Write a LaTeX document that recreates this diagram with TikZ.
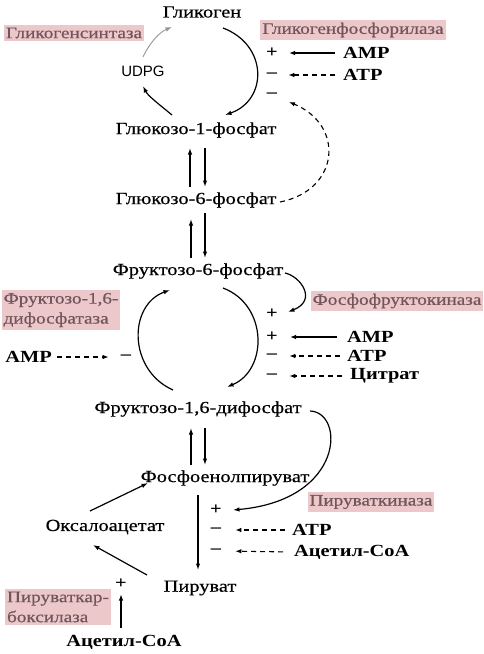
\documentclass[tikz,border=0pt]{standalone}
\usepackage{fontspec}
\setmainfont[FakeStretch=1.2,UprightFeatures={FakeBold=0.5}]{Liberation Serif}
\newfontfamily\udpgfont{Liberation Sans}
\usetikzlibrary{arrows.meta}
\definecolor{enzfill}{RGB}{236,200,203}
\definecolor{enztext}{RGB}{112,86,91}
\definecolor{synthgray}{RGB}{150,150,150}
\newcommand{\mfont}{\fontsize{17}{20}\selectfont}
\newcommand{\efont}{\fontsize{16}{20}\selectfont}
\tikzset{
  metab/.style={inner sep=1pt,font=\mfont},
  effector/.style={inner sep=1pt,anchor=west,font=\mfont\bfseries},
  enzyme/.style={fill=enzfill,text=enztext,inner xsep=2pt,inner ysep=3pt,align=left,font=\efont},
  sgn/.style={inner sep=1pt,font=\mfont\bfseries},
  react/.style={-{Latex[length=6.5pt,width=4.5pt]},line width=1.2pt},
  regact/.style={-{Latex[length=6pt,width=4.5pt]},line width=1.1pt},
  reginh/.style={regact,dash pattern=on 5pt off 4pt}
}
\begin{document}
\begin{tikzpicture}[x=1pt,y=-1pt]
\useasboundingbox (0,0) rectangle (484,654);
% metabolites
\node[metab] (glycogen) at (202,12) {Гликоген};
\node[metab,font=\udpgfont\fontsize{15}{16}\selectfont] (udpg) at (143,71) {UDPG};
\node[metab] (g1p) at (196,130) {Глюкозо-1-фосфат};
\node[metab] (g6p) at (196,200) {Глюкозо-6-фосфат};
\node[metab] (f6p) at (198,271) {Фруктозо-6-фосфат};
\node[metab] (f16bp) at (198,409) {Фруктозо-1,6-дифосфат};
\node[metab] (pep) at (225,478) {Фосфоенолпируват};
\node[metab] (oaa) at (105,527) {Оксалоацетат};
\node[metab] (pyr) at (200,588) {Пируват};
% enzymes
\node[enzyme] (gs) at (74,33) {Гликогенсинтаза};
\node[enzyme] (gp) at (353,30) {Гликогенфосфорилаза};
\node[enzyme] (pfk) at (397,301) {Фосфофруктокиназа};
\node[enzyme] (fbp) at (61,310) {Фруктозо-1,6-\\дифосфатаза};
\node[enzyme] (pk) at (371,502) {Пируваткиназа};
\node[enzyme] (pc) at (58,607) {Пируваткар-\\боксилаза};
% signs
\node[sgn] (gpa) at (272,53) {+};
\node[sgn] (gpb) at (272,75) {--};
\node[sgn] (gpc) at (272,95) {--};
\node[sgn] (pfka) at (272,314) {+};
\node[sgn] (pfkb) at (272,337) {+};
\node[sgn] (pfkc) at (272,356) {--};
\node[sgn] (pfkd) at (272,376) {--};
\node[sgn] (fbpa) at (126,357) {--};
\node[sgn] (pka) at (216,510) {+};
\node[sgn] (pkb) at (216,530) {--};
\node[sgn] (pkc) at (216,551) {--};
\node[sgn] (pca) at (121,584) {+};
% effectors
\node[effector] (amp1) at (342,53) {AMP};
\node[effector] (atp1) at (342,75) {ATP};
\node[effector] (amp2) at (346,337) {AMP};
\node[effector] (atp2) at (346,356) {ATP};
\node[effector] (cit) at (349,376) {Цитрат};
\node[effector,anchor=east] (amp3) at (53,357) {AMP};
\node[effector] (atp3) at (291,530) {ATP};
\node[effector] (acoa1) at (293,552) {Ацетил-CoA};
\node[effector,anchor=center] (acoa2) at (124,642) {Ацетил-CoA};
% glycogen cycle
\draw[react] ([shift={(21,16)}]glycogen.center) .. controls (268,45) and (268,100) .. ([shift={(29,-15)}]g1p.center);
\draw[react] ([shift={(-24,-15)}]g1p.center) .. controls (160,105) and (148,96) .. ([shift={(0,15)}]udpg.center);
\draw[react,synthgray,line width=0.9pt] ([shift={(0,-14)}]udpg.center) .. controls (150,42) and (160,32) .. ([shift={(-30,15)}]glycogen.center);
\draw[reginh] ([shift={(84,2)}]g6p.center) .. controls (340,190) and (345,125) .. ([shift={(17,7)}]gpc.center);
% vertical pairs
\draw[react] ([shift={(-6,-13)}]g6p.center) -- ([shift={(-6,18)}]g1p.center);
\draw[react] ([shift={(9,18)}]g1p.center) -- ([shift={(9,-13)}]g6p.center);
\draw[react] ([shift={(-7,-13)}]f6p.center) -- ([shift={(-5,19)}]g6p.center);
\draw[react] ([shift={(9,13)}]g6p.center) -- ([shift={(7,-13)}]f6p.center);
\draw[react] ([shift={(-34,-13)}]pep.center) -- ([shift={(-7,19)}]f16bp.center);
\draw[react] ([shift={(7,19)}]f16bp.center) -- ([shift={(-20,-13)}]pep.center);
% fructose cycle
\draw[react] ([shift={(25,17)}]f6p.center) .. controls (268,305) and (268,370) .. ([shift={(29,-22)}]f16bp.center);
\draw[react] ([shift={(-25,-19)}]f16bp.center) .. controls (128,370) and (128,305) .. ([shift={(-28,19)}]f6p.center);
\draw[react] ([shift={(87,2)}]f6p.center) .. controls (300,276) and (318,300) .. ([shift={(16,-2)}]pfka.center);
% lower part
\draw[react] ([shift={(112,2)}]f16bp.center) .. controls (345,412) and (345,500) .. ([shift={(17,0)}]pka.center);
\draw[react] ([shift={(-27,17)}]pep.center) -- ([shift={(-2,-18)}]pyr.center);
\draw[react] ([shift={(-15,-16)}]oaa.center) -- ([shift={(-77,5)}]pep.center);
\draw[react] ([shift={(-53,-13)}]pyr.center) -- ([shift={(-12,18)}]oaa.center);
% regulators
\draw[regact,shorten <=7pt,shorten >=10pt] (amp1.west) -- (gpa.east);
\draw[reginh,shorten <=7pt,shorten >=10pt] (atp1.west) -- (gpb.east);
\draw[regact,shorten <=9pt,shorten >=11pt] (amp2.west) -- (pfkb.east);
\draw[reginh,shorten <=6pt,shorten >=11pt] (atp2.west) -- (pfkc.east);
\draw[reginh,shorten <=7pt,shorten >=11pt] (cit.west) -- (pfkd.east);
\draw[reginh,shorten <=4pt,shorten >=11pt] (amp3.east) -- (fbpa.west);
\draw[reginh,shorten <=6pt,shorten >=13pt] (atp3.west) -- (pkb.east);
\draw[reginh,shorten <=10pt,shorten >=13pt] (acoa1.west) -- (pkc.east);
\draw[react,line width=1.8pt,shorten <=6pt,shorten >=4pt] (acoa2.north -| pca) -- (pca.south);
\end{tikzpicture}
\end{document}
